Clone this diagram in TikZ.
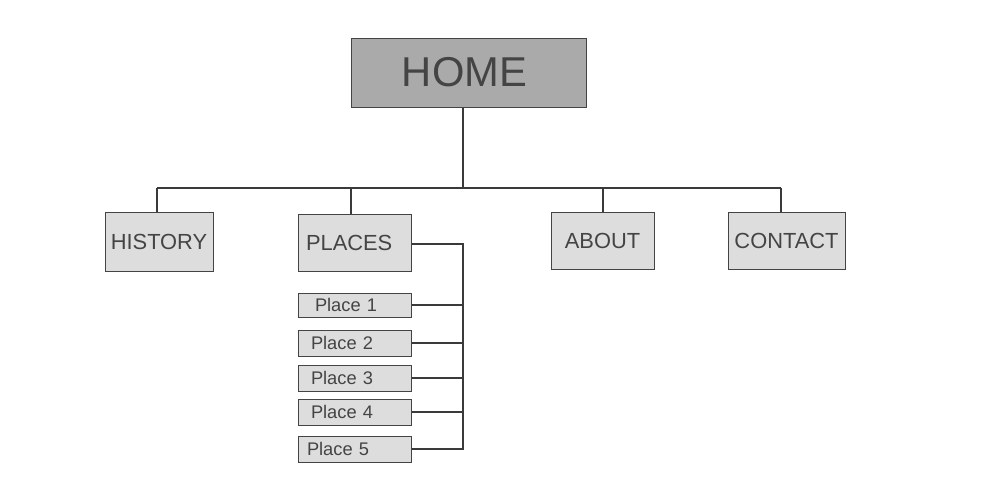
\documentclass[tikz,border=0pt]{standalone}
\usepackage{fontspec}
\setmainfont{Liberation Sans}
\usepackage{xcolor}
\usetikzlibrary{positioning}
\definecolor{boxgray}{HTML}{DDDDDD}
\definecolor{homegray}{HTML}{AAAAAA}
\definecolor{textgray}{HTML}{444444}
\definecolor{linegray}{HTML}{3A3A3A}

\begin{document}
\begin{tikzpicture}
  [
    x=0.75pt, y=-0.75pt,
    Home/.style={rectangle, draw=textgray, fill=homegray, line width=0.75pt, text=textgray,
      minimum width=176.25pt, minimum height=51.75pt, inner sep=0pt, font=\fontsize{31.3}{36}\selectfont},
    Menu/.style={rectangle, draw=textgray, fill=boxgray, line width=0.75pt, text=textgray,
      minimum height=42.75pt, inner sep=0pt, font=\fontsize{16.4}{19}\selectfont},
    Sub/.style={rectangle, draw=textgray, fill=boxgray, line width=0.75pt, text=textgray,
      minimum width=84.75pt, text width=71.25pt, inner xsep=6.75pt, inner ysep=0pt, align=left,
      minimum height=19.5pt, font=\fontsize{13.7}{16}\selectfont},
    Link/.style={draw=linegray, line width=1.5pt},
    Bus/.style={draw=linegray, line width=0.8pt}
  ]
  \useasboundingbox (0,0) rectangle (989,479);
  % Nodes
  \node[Home] (home) at (468.5, 72.5) {HOME\hspace*{6pt}};
  \node[Menu, minimum width=81pt, minimum height=44.25pt] (history) at (159, 241.5) {HISTORY};
  \node[Menu, minimum width=84.75pt] (places) at (354.5, 242.5) {PLACES\hspace*{8pt}};
  \node[Menu, minimum width=77.25pt] (about) at (602.5, 240.5) {ABOUT};
  \node[Menu, minimum width=87.75pt] (contact) at (786.5, 240.5) {CONTACT};
  \node[Sub, minimum height=18pt] (place1) at (354.5, 305) {\hspace*{6pt}Place 1};
  \node[Sub] (place2) at (354.5, 343) {\hspace*{3pt}Place 2};
  \node[Sub] (place3) at (354.5, 378) {\hspace*{3pt}Place 3};
  \node[Sub] (place4) at (354.5, 412) {\hspace*{3pt}Place 4};
  \node[Sub] (place5) at (354.5, 449) {Place 5};
  \coordinate (bus) at (463, 188);
  \coordinate (spine) at (463, 244);
  % Lines
  \path [Bus] ([xshift=-1.5pt]history.north |- bus) -- ([xshift=-4.5pt]contact.north |- bus);
  \path [Link] (home.south -| bus) -- (bus);
  \path [Link] ([xshift=-1.5pt]history.north) -- ([xshift=-1.5pt]history.north |- bus);
  \path [Link] ([xshift=-2.6pt]places.north) -- ([xshift=-2.6pt]places.north |- bus);
  \path [Link] (about.north) -- (about.north |- bus);
  \path [Link] ([xshift=-4.5pt]contact.north) -- ([xshift=-4.5pt]contact.north |- bus);
  \path [Link] (places.east |- spine) -- (spine) -- (spine |- place5.east) -- (place5.east);
  \foreach \i in {1,...,4}
    \path [Link] (place\i.east) -- (place\i.east -| spine);
\end{tikzpicture}
\end{document}
